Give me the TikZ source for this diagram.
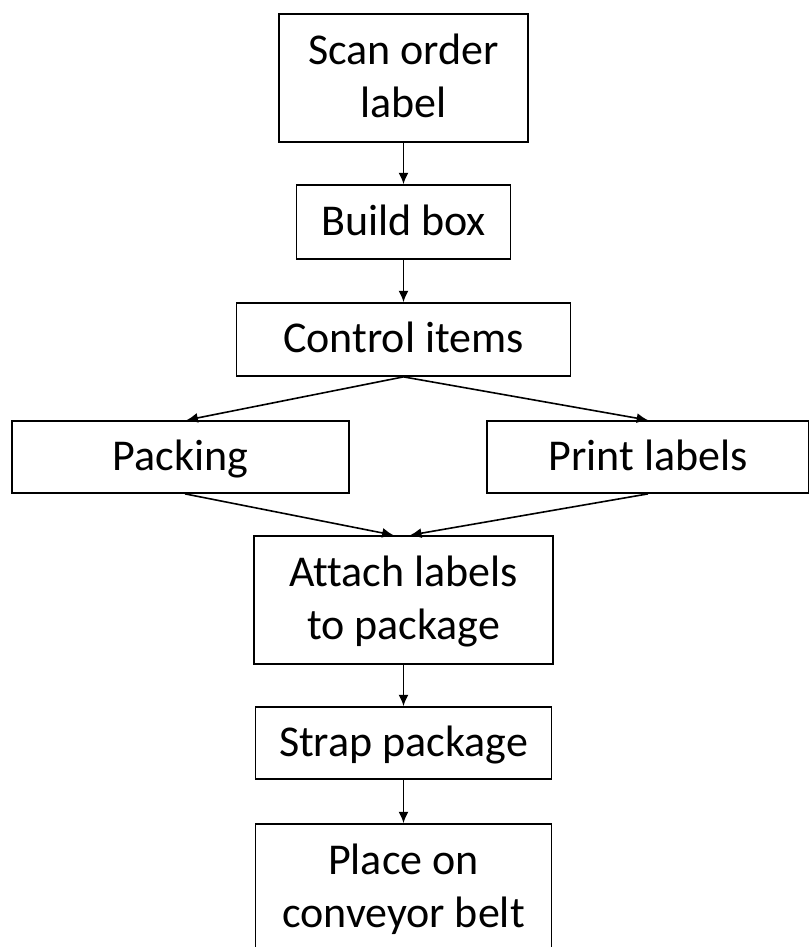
\documentclass[tikz,border=0pt]{standalone}
\usepackage{fontspec}
\setmainfont[Ligatures=NoCommon]{Carlito}
\usetikzlibrary{arrows.meta}
\newcommand{\lnstrut}{\rule[-9pt]{0pt}{37.5pt}}
\begin{document}
\begin{tikzpicture}[x=0.75pt,y=-0.75pt,
  stepbox/.style={draw=black,line width=1.3pt,rectangle,inner sep=0pt,anchor=center,
    align=center,font=\fontsize{33}{40}\selectfont},
  flow/.style={draw=black,line width=1.2pt,-{Latex[length=8.5pt,width=7.5pt]}}]
\useasboundingbox (0,0) rectangle (808,947);
\node[stepbox,minimum width=249*0.75pt,minimum height=128*0.75pt] (b1) at (403.5,78) {\lnstrut Scan order\\\lnstrut label};
\node[stepbox,minimum width=214*0.75pt,minimum height=74*0.75pt] (b2) at (403.5,222) {\lnstrut Build box};
\node[stepbox,minimum width=334*0.75pt,minimum height=73*0.75pt] (b3) at (403.5,339.5) {\lnstrut Control items};
\node[stepbox,minimum width=337*0.75pt,minimum height=72*0.75pt] (b4) at (180.5,457) {\lnstrut Packing};
\node[stepbox,minimum width=322*0.75pt,minimum height=72*0.75pt] (b5) at (648,457) {\lnstrut Print labels};
\node[stepbox,minimum width=299*0.75pt,minimum height=128*0.75pt] (b6) at (403.5,600) {\lnstrut Attach labels\\\lnstrut to package};
\node[stepbox,minimum width=296*0.75pt,minimum height=72*0.75pt] (b7) at (403.5,743) {\lnstrut Strap package};
\node[stepbox,minimum width=296*0.75pt,minimum height=128*0.75pt] (b8) at (403.5,888) {\lnstrut Place on\\\lnstrut conveyor belt};
\draw[flow] (b1.south) -- (b2.north);
\draw[flow] (b2.south) -- (b3.north);
\draw[flow] (b3.south) -- ([xshift=4.5pt]b4.north);
\draw[flow] (b3.south) -- (b5.north);
\draw[flow] ([xshift=3.4pt]b4.south) -- ([xshift=-7.5pt]b6.north);
\draw[flow] (b5.south) -- ([xshift=5pt]b6.north);
\draw[flow] (b6.south) -- (b7.north);
\draw[flow] (b7.south) -- (b8.north);
\end{tikzpicture}
\end{document}
